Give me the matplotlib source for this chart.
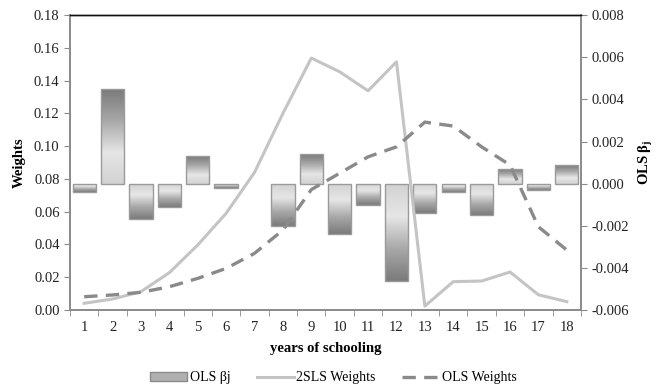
# -*- coding: utf-8 -*-

# imports
import numpy as np
import matplotlib
matplotlib.use('Agg')
import matplotlib.pyplot as plt
from matplotlib.patches import Patch
from matplotlib.lines import Line2D
from matplotlib.colors import LinearSegmentedColormap

################################################################################

years = list(range(1, 19))
ols_beta = [-0.0004, 0.0045, -0.0017, -0.0011, 0.0013, -0.0002, 0.0, -0.0020, 0.0014,
            -0.0024, -0.0010, -0.0046, -0.0014, -0.0004, -0.0015, 0.0007, -0.0003, 0.0009]
tsls_weights = [0.0041, 0.0067, 0.0112, 0.0228, 0.0397, 0.059, 0.084, 0.120, 0.1538,
                0.1454, 0.1338, 0.1515, 0.0024, 0.0173, 0.0177, 0.0232, 0.0093, 0.0051]
ols_weights = [0.0081, 0.0092, 0.0108, 0.0142, 0.0193, 0.0254, 0.0346, 0.0488, 0.0735,
               0.0835, 0.0935, 0.0996, 0.1147, 0.1123, 0.0996, 0.0885, 0.0508, 0.0366]
left_ticks = [0.00, 0.02, 0.04, 0.06, 0.08, 0.10, 0.12, 0.14, 0.16, 0.18]
right_ticks = [-0.006, -0.004, -0.002, 0.000, 0.002, 0.004, 0.006, 0.008]

################################################################################

plt.rcParams['font.family'] = ['Liberation Serif', 'DejaVu Serif']
plt.rcParams['font.size'] = 10.5
plt.rcParams['mathtext.fontset'] = 'custom'
plt.rcParams['mathtext.rm'] = 'Liberation Serif'
plt.rcParams['mathtext.it'] = 'Liberation Serif:italic'
plt.rcParams['mathtext.bf'] = 'Liberation Serif:bold'

fig = plt.figure(figsize=(6.64, 3.88), dpi=100)
ax = fig.add_axes([0.1054, 0.201, 0.7696, 0.760])
ax2 = ax.twinx()
ax.set_zorder(ax2.get_zorder() + 1)
ax.patch.set_visible(False)

# gradient bars on the right axis: dark at the outer end, light near the baseline
cmap = LinearSegmentedColormap.from_list('bar', ['#7a7a7a', '#a8a8a8', '#e6e6e6', '#d2d2d2'])
grad = np.linspace(0, 1, 256).reshape(-1, 1)
bar_w = 0.82
for x, v in zip(years, ols_beta):
    if v == 0:
        continue
    rect = ax2.bar(x, v, width=bar_w, facecolor='none', edgecolor='#9a9a9a', linewidth=1.0, zorder=3)[0]
    if v > 0:
        extent = [x - bar_w / 2, x + bar_w / 2, 0, v]
        img = grad
    else:
        extent = [x - bar_w / 2, x + bar_w / 2, v, 0]
        img = grad[::-1]
    im = ax2.imshow(img, cmap=cmap, extent=extent, aspect='auto', origin='upper', zorder=2,
                    interpolation='bilinear')
    im.set_clip_path(rect)

ax2.set_xlim(0.5, 18.5)
ax2.set_ylim(-0.006, 0.008)
ax2.set_yticks(right_ticks)
ax2.set_yticklabels(['%.3f' % t for t in right_ticks])
ax2.set_ylabel(r'OLS $\mathbf{\beta}_\mathbf{j}$', fontweight='bold', labelpad=6)

# lines on the left axis
ax.plot(years, tsls_weights, color='#c4c4c4', linewidth=2.2, zorder=4)
ax.plot(years, ols_weights, color='#8a8a8a', linewidth=2.4, dashes=(4, 2.5), zorder=4)
ax.set_xlim(0.5, 18.5)
ax.set_ylim(0, 0.18)
ax.set_yticks(left_ticks)
ax.set_yticklabels(['%.2f' % t for t in left_ticks])
ax.set_ylabel('Weights', fontweight='bold', labelpad=6)
ax.set_xlabel('years of schooling', fontweight='bold', labelpad=6)

ax.set_xticks(years)
ax.set_xticks(np.arange(0.5, 19, 1), minor=True)
ax.tick_params(axis='x', which='major', length=0, pad=8, colors='#222222')
ax.tick_params(axis='x', which='minor', length=4, color='#8a8a8a')
ax.tick_params(axis='y', length=4, color='#8a8a8a', labelcolor='#222222')
ax2.tick_params(axis='y', length=4, color='#8a8a8a', labelcolor='#222222')

for a in (ax, ax2):
    for s in ('left', 'right', 'bottom'):
        a.spines[s].set_color('#8a8a8a')
        a.spines[s].set_linewidth(1.2)
    a.spines['top'].set_color('#111111')
    a.spines['top'].set_linewidth(1.0)

handles = [Patch(facecolor='#b0b0b0', edgecolor='#8a8a8a'),
           Line2D([0], [0], color='#c4c4c4', linewidth=2.2),
           Line2D([0], [0], color='#8a8a8a', linewidth=2.4, dashes=(4, 2.5))]
fig.legend(handles, ['OLS βj', '2SLS Weights', 'OLS Weights'], loc='center',
           bbox_to_anchor=(0.502, 0.026), ncol=3, frameon=False, fontsize=10,
           handlelength=2.65, columnspacing=1.9, handletextpad=0.2)

fig.savefig('out.png', dpi=100)
